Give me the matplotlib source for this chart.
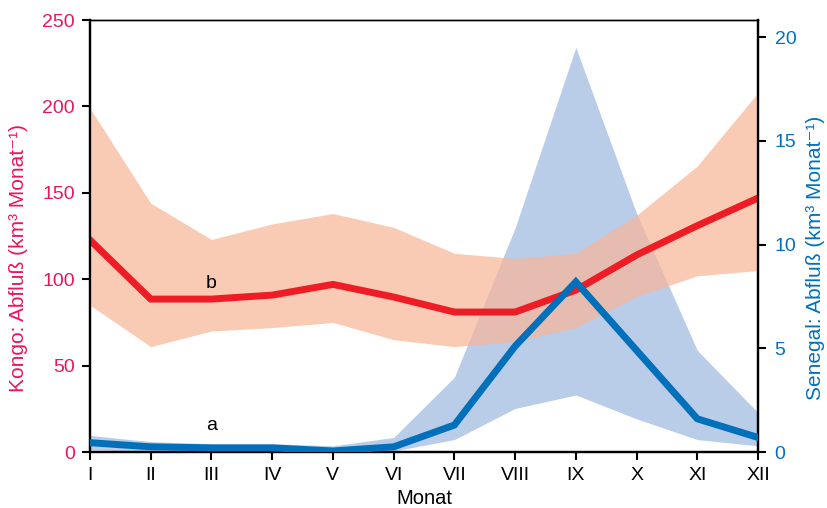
import matplotlib

matplotlib.use("Agg")
import matplotlib.pyplot as plt
import numpy as np

plt.rcParams["font.family"] = ["Liberation Sans", "DejaVu Sans"]

MONTHS = ["I", "II", "III", "IV", "V", "VI", "VII", "VIII", "IX", "X", "XI", "XII"]

# Kongo discharge (km3 per month), left axis
KONGO_MEAN = [122.7, 88.5, 88.5, 90.8, 97.0, 89.7, 81.0, 81.0, 93.7, 114.0, 131.0, 147.0]
KONGO_HIGH = [199.0, 144.0, 123.0, 132.0, 138.0, 130.0, 115.0, 112.0, 115.0, 137.0, 165.5, 208.0]
KONGO_LOW = [85.0, 61.0, 70.0, 72.0, 75.0, 65.0, 61.0, 64.0, 72.0, 90.0, 102.0, 105.0]

# Senegal discharge (km3 per month), right axis
SENEGAL_MEAN = [0.45, 0.25, 0.2, 0.2, 0.05, 0.25, 1.3, 5.1, 8.2, 4.9, 1.6, 0.7]
SENEGAL_HIGH = [0.8, 0.5, 0.4, 0.4, 0.3, 0.7, 3.6, 10.8, 19.5, 11.5, 4.9, 1.9]
SENEGAL_LOW = [0.1, 0.05, 0.0, 0.0, 0.0, 0.05, 0.6, 2.1, 2.75, 1.6, 0.6, 0.3]

RED_LINE = "#ee1c25"
RED_BAND = "#f7b799"
BLUE_LINE = "#0070ba"
BLUE_BAND = "#b9cce8"
LEFT_TEXT = "#e8175d"
RIGHT_TEXT = "#0072bc"
FONT_SIZE = 14

x = np.arange(len(MONTHS))

fig = plt.figure(figsize=(8.27, 5.08), dpi=100)
ax = fig.add_axes([0.1088, 0.1102, 0.8078, 0.8504])
ax2 = ax.twinx()
ax.set_zorder(ax2.get_zorder() + 1)
ax.patch.set_visible(False)

# Senegal band underneath, Kongo band semi-transparent above
ax2.fill_between(x, SENEGAL_LOW, SENEGAL_HIGH, color=BLUE_BAND, linewidth=0, zorder=1)
ax.fill_between(x, KONGO_LOW, KONGO_HIGH, color=RED_BAND, alpha=0.72, linewidth=0, zorder=1)
ax.plot(x, KONGO_MEAN, color=RED_LINE, linewidth=5.0, solid_joinstyle="miter", zorder=2)

# blue line must sit above red line, so draw it on the front axes via transform
ax.plot(
    x,
    SENEGAL_MEAN,
    color=BLUE_LINE,
    linewidth=5.0,
    solid_joinstyle="miter",
    transform=ax2.transData,
    zorder=3,
)

ax.text(2, 97.5, "b", fontsize=FONT_SIZE, ha="center", va="center", zorder=4)
ax.text(2, 15.5, "a", fontsize=FONT_SIZE, ha="center", va="center", zorder=4)

ax.set_xlim(0, len(MONTHS) - 1)
ax.set_ylim(0, 250)
ax2.set_ylim(0, 20.82)
ax.set_xticks(x)
ax.set_xticklabels(MONTHS)
ax.set_yticks([0, 50, 100, 150, 200, 250])
ax2.set_yticks([0, 5, 10, 15, 20])

ax.set_xlabel("Monat", fontsize=FONT_SIZE + 0.5)
ax.set_ylabel("Kongo: Abfluß (km³ Monat⁻¹)", fontsize=15, color=LEFT_TEXT)
ax2.set_ylabel("Senegal: Abfluß (km³ Monat⁻¹)", fontsize=15, color=RIGHT_TEXT)
ax.xaxis.set_label_coords(0.5, -0.085)
ax.yaxis.set_label_coords(-0.093, 0.45)
ax2.yaxis.set_label_coords(1.072, 0.45)

ax.tick_params(axis="x", direction="out", length=6, width=1.5, labelsize=FONT_SIZE, pad=5)
ax.tick_params(axis="y", direction="out", length=6, width=1.5, labelsize=FONT_SIZE,
               labelcolor=LEFT_TEXT, pad=5)
ax2.tick_params(axis="y", direction="out", length=6, width=1.5, labelsize=FONT_SIZE,
                labelcolor=RIGHT_TEXT, pad=6)

for axis in (ax, ax2):
    for side in ("left", "right", "bottom"):
        axis.spines[side].set_linewidth(1.6)
    axis.spines["top"].set_linewidth(1.0)

fig.savefig("out.png", dpi=100, facecolor="white")
plt.close(fig)
